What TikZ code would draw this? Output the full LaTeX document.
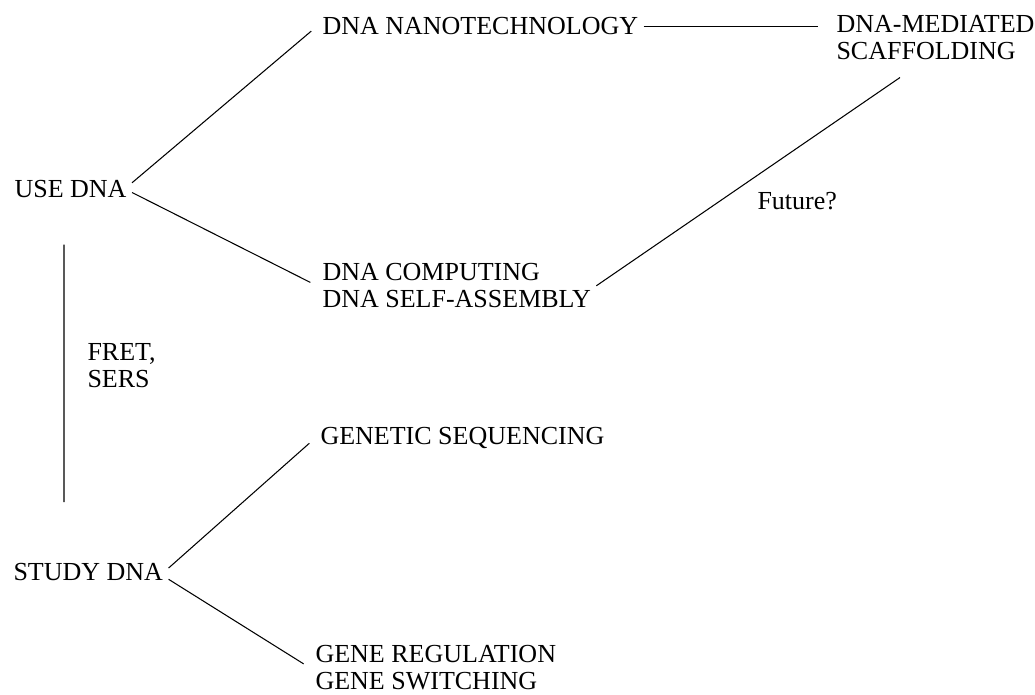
\documentclass[tikz,border=0pt]{standalone}
\usepackage{fontspec}
\setmainfont{Liberation Serif}

\begin{document}
\begin{tikzpicture}[x=0.02cm,y=-0.02cm,line width=0.6pt,
                    item node/.style={anchor=north west,inner sep=0.1cm,align=left,
                      font=\fontsize{14.8pt}{15.4pt}\selectfont},
                    twig/.style={shorten >=0.15cm}]
  \useasboundingbox (0,0) rectangle (1035,695);
  \node[item node] (use)    at (9,175)   {USE DNA};
  \node[item node] (study)  at (8,558)   {STUDY DNA};
  \node[item node] (nano)   at (317,12)  {DNA NANOTECHNOLOGY};
  \node[item node] (comp)   at (317,258) {DNA COMPUTING\\DNA SELF-ASSEMBLY};
  \node[item node] (scaf)   at (831,10)  {DNA-MEDIATED\\SCAFFOLDING};
  \node[item node] (seq)    at (315,422) {GENETIC SEQUENCING};
  \node[item node] (reg)    at (310,640) {GENE REGULATION\\GENE SWITCHING};
  \node[item node] (fret)   at (82,338)  {FRET,\\SERS};
  \node[item node] (future) at (752,187) {Future?};
  \path
    (use.6)    edge[twig] (nano.west)
    (use.-3)   edge[twig] (comp.west)
    (study.3)  edge[twig] (seq.west)
    (study.-5) edge[twig] (reg.west)
    (comp.east) edge ([xshift=1.38cm,yshift=-0.24cm]scaf.south west)
    ;
  \draw[shorten >=0.26cm] (nano.east) -- (nano.east -| scaf.west);
  \draw ([shift={(1.1cm,-0.82cm)}]use.south west)
     -- ([shift={(1.12cm,1.12cm)}]study.north west);
\end{tikzpicture}
\end{document}
